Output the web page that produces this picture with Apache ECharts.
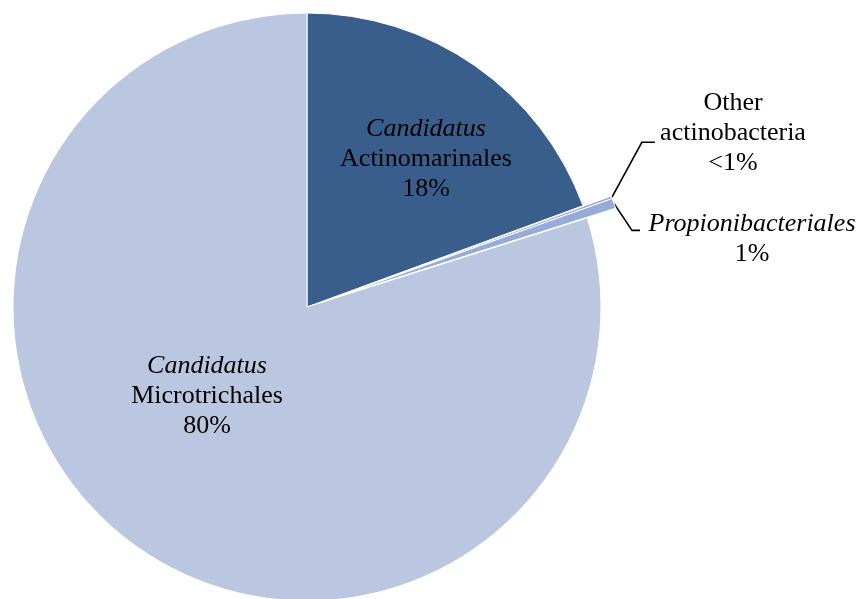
<!DOCTYPE html>
<html><head><meta charset="utf-8">
<script src="https://cdn.jsdelivr.net/npm/echarts@6/dist/echarts.min.js"></script>
<style>html,body{margin:0;padding:0;background:#fff}#c{width:866px;height:599px}</style>
</head><body><div id="c"></div>
<script>
const categories = ['Candidatus Actinomarinales', 'Other actinobacteria', 'Propionibacteriales', 'Candidatus Microtrichales'];
const italicLines = ['Candidatus', '', 'Propionibacteriales', 'Candidatus'];
const plainLines = ['Actinomarinales', 'Other\nactinobacteria', '', 'Microtrichales'];
const values = [19.4, 0.15, 0.55, 79.9];
const percentLabels = ['18%', '<1%', '1%', '80%'];
const exploded = [false, true, true, false];
const sliceColors = ['#3a5e8c', '#96abd8', '#96abd8', '#bbc7e0'];

const labelTargets = [[426, 159], [733, 133], [752, 239], [207, 396]];

function labelText(i) {
  const parts = [];
  if (italicLines[i]) parts.push('{i|' + italicLines[i] + '}');
  if (plainLines[i]) plainLines[i].split('\n').forEach(s => parts.push('{n|' + s + '}'));
  parts.push('{n|' + percentLabels[i] + '}');
  return parts.join('\n');
}

const CX = 307, CY = 307, R = 294, OFFSET = 30;
const total = values.reduce((a, b) => a + b, 0);
let acc = 0, a0 = null, a1 = null;
values.forEach((v, i) => {
  if (exploded[i] && a0 === null) a0 = acc;
  acc += v;
  if (exploded[i]) a1 = acc;
});
const midDeg = ((a0 + a1) / 2) / total * 360;
const midRad = midDeg * Math.PI / 180;
const ecx = CX + OFFSET * Math.sin(midRad);
const ecy = CY - OFFSET * Math.cos(midRad);

const font = '"Liberation Serif", "Times New Roman", serif';
const FS = 26, LH = 30;
const labelBase = {
  show: true,
  formatter: p => labelText(p.dataIndex),
  color: '#000',
  fontFamily: font,
  fontSize: FS,
  lineHeight: LH,
  align: 'center',
  rich: {
    i: {fontFamily: font, fontSize: FS, fontStyle: 'italic', lineHeight: LH, color: '#000', align: 'center'},
    n: {fontFamily: font, fontSize: FS, lineHeight: LH, color: '#000', align: 'center'}
  }
};
function layoutFn(params) {
  const i = params.dataIndex;
  const t = labelTargets[i];
  const res = {x: t[0], y: t[1], align: 'center', verticalAlign: 'middle'};
  const pts = params.labelLinePoints;
  if (pts && pts.length && exploded[i]) {
    const p0 = pts[0];
    if (i === 1) {
      const p1 = [p0[0] + 30, p0[1] - 55];
      res.labelLinePoints = [p0, p1, [p1[0] + 13, p1[1]]];
    } else {
      const p1 = [p0[0] + 18, p0[1] + 27];
      res.labelLinePoints = [p0, p1, [p1[0] + 8, p1[1]]];
    }
  }
  return res;
}
const hidden = {color: 'rgba(0,0,0,0)', borderWidth: 0};

const chart = echarts.init(document.getElementById('c'), null, {renderer: 'canvas'});
chart.setOption({
  animation: false,
  series: [{
    type: 'pie',
    silent: true,
    center: [CX, CY],
    radius: R,
    startAngle: 90,
    clockwise: true,
    avoidLabelOverlap: false,
    itemStyle: {borderColor: '#ffffff', borderWidth: 1},
    label: Object.assign({}, labelBase, {position: 'inside'}),
    labelLine: {show: false},
    labelLayout: layoutFn,
    data: categories.map((c, i) => ({
      name: c,
      value: values[i],
      itemStyle: exploded[i] ? hidden : {color: sliceColors[i]},
      label: {show: !exploded[i]}
    }))
  }, {
    type: 'pie',
    silent: true,
    center: [ecx, ecy],
    radius: R,
    startAngle: 90,
    clockwise: true,
    avoidLabelOverlap: false,
    itemStyle: {borderColor: '#ffffff', borderWidth: 1},
    label: Object.assign({}, labelBase, {position: 'outside'}),
    labelLine: {show: true, length: 20, length2: 10, lineStyle: {color: '#000', width: 1.6}},
    labelLayout: layoutFn,
    data: categories.map((c, i) => ({
      name: c,
      value: values[i],
      itemStyle: exploded[i] ? {color: sliceColors[i]} : hidden,
      label: {show: exploded[i]},
      labelLine: {show: exploded[i]}
    }))
  }]
});
</script></body></html>
